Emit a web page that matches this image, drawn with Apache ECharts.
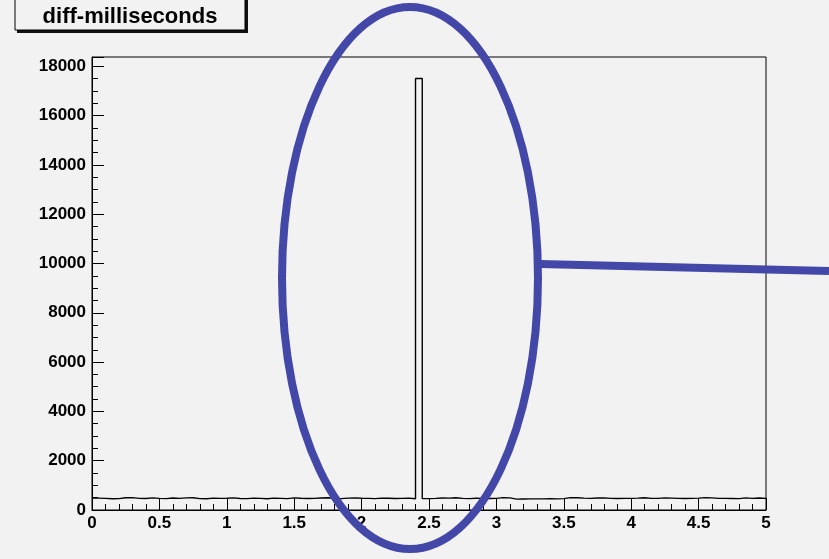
<!DOCTYPE html>
<html>
<head>
<meta charset="utf-8">
<script src="https://cdn.jsdelivr.net/npm/echarts@6/dist/echarts.min.js"></script>
<style>
  html, body { margin: 0; padding: 0; background: #f2f2f2; }
  #main { width: 829px; height: 559px; }
</style>
</head>
<body>
<div id="main"></div>
<script>
// histogram: 100 bins of 0.05 from 0 to 5
const histTitle = 'diff-milliseconds'
const binWidth = 0.05
const counts = [
  480, 470, 455, 460, 495, 500, 470, 465, 490, 470,
  460, 485, 470, 490, 495, 460, 455, 480, 470, 475,
  490, 465, 460, 480, 470, 455, 480, 470, 460, 490,
  475, 465, 470, 485, 495, 470, 460, 480, 490, 475,
  470, 460, 480, 475, 465, 470, 480, 455, 17500, 460,
  470, 485, 480, 495, 470, 460, 475, 470, 465, 470,
  500, 490, 440, 445, 450, 450, 450, 455, 450, 460,
  500, 495, 480, 470, 485, 490, 470, 465, 470, 470,
  480, 495, 470, 470, 490, 480, 470, 465, 470, 480,
  500, 490, 470, 470, 465, 460, 490, 470, 485, 470
]
const yMax = 18375

// step outline points (left edge of each bin, plus closing edge)
const steps = counts.map((v, i) => [+(i * binWidth).toFixed(2), v])
steps.push([+(counts.length * binWidth).toFixed(2), counts[counts.length - 1]])

const chart = echarts.init(document.getElementById('main'))
const labelFont = { color: '#000', fontWeight: 'bold', fontSize: 17, fontFamily: 'Liberation Sans, Arial, sans-serif' }

chart.setOption({
  backgroundColor: '#f2f2f2',
  animation: false,
  grid: {
    left: 92, right: 63, top: 57, bottom: 49,
    show: true, borderColor: '#000', borderWidth: 1, backgroundColor: '#f2f2f2'
  },
  xAxis: {
    type: 'value', min: 0, max: 5, interval: 0.5,
    axisLine: { show: true, onZero: false, lineStyle: { color: '#000', width: 1 } },
    axisTick: { show: true, inside: true, length: 12, lineStyle: { color: '#000' } },
    minorTick: { show: true, splitNumber: 5, length: 6, lineStyle: { color: '#000' } },
    splitLine: { show: false },
    axisLabel: Object.assign({ margin: 5, formatter: v => String(v) }, labelFont)
  },
  yAxis: {
    type: 'value', min: 0, max: yMax, interval: 2000,
    axisLine: { show: true, lineStyle: { color: '#000', width: 1 } },
    axisTick: { show: true, inside: true, length: 12, lineStyle: { color: '#000' } },
    minorTick: { show: true, splitNumber: 4, length: 6, lineStyle: { color: '#000' } },
    splitLine: { show: false },
    axisLabel: Object.assign({ margin: 6, showMaxLabel: false, formatter: v => String(v) }, labelFont)
  },
  series: [{
    type: 'line',
    step: 'end',
    data: steps,
    symbol: 'none',
    lineStyle: { color: '#000', width: 1.4 },
    clip: true
  }],
  graphic: [
    // title box with shadow
    { type: 'rect', shape: { x: 17, y: -3, width: 231, height: 36 }, style: { fill: '#111' } },
    { type: 'rect', shape: { x: 15, y: -3, width: 230, height: 33 }, style: { fill: '#f2f2f2', stroke: '#000', lineWidth: 1 } },
    {
      type: 'text', x: 130, y: 17,
      style: {
        text: histTitle, fill: '#000', fontWeight: 'bold', fontSize: 22,
        fontFamily: 'Liberation Sans, Arial, sans-serif',
        textAlign: 'center', textVerticalAlign: 'middle'
      }
    },
    // annotation: ellipse + pointer line
    {
      type: 'ellipse', shape: { cx: 410, cy: 278, rx: 128, ry: 271 },
      style: { fill: 'none', stroke: '#4347a8', lineWidth: 8 }, z: 100
    },
    {
      type: 'line', shape: { x1: 540, y1: 264, x2: 829, y2: 271 },
      style: { stroke: '#4347a8', lineWidth: 8 }, z: 100
    }
  ]
})
</script>
</body>
</html>
